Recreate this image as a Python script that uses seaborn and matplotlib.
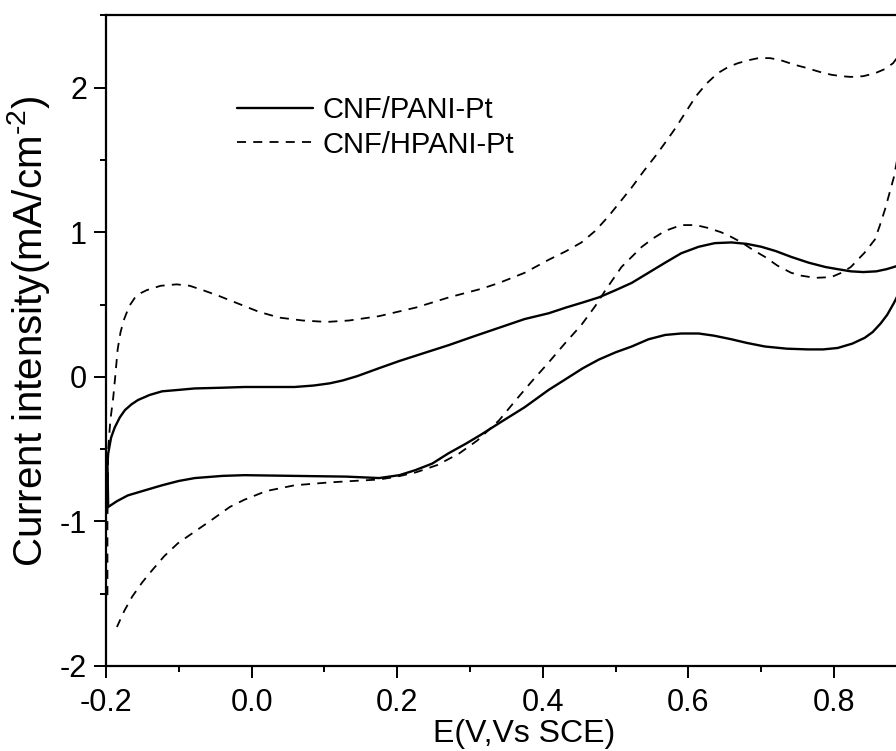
import matplotlib
matplotlib.use('Agg')
import matplotlib.pyplot as plt
from matplotlib.ticker import MultipleLocator, FormatStrFormatter
import seaborn as sns
import pandas as pd

# CNF/PANI-Pt, one cycle: forward scan then back
pani_e = [-0.198, -0.197, -0.193, -0.188, -0.181, -0.174, -0.165, -0.156, -0.14, -0.123,
          -0.1, -0.078, -0.04, -0.01, 0.03, 0.059, 0.085, 0.107, 0.125, 0.145,
          0.175, 0.203, 0.24, 0.271, 0.305, 0.34, 0.375, 0.408, 0.432, 0.455,
          0.477, 0.50, 0.522, 0.545, 0.568, 0.59, 0.614, 0.636, 0.659, 0.68,
          0.70, 0.72, 0.741, 0.765, 0.788, 0.805, 0.823, 0.84, 0.858, 0.872,
          0.882, 0.90,
          0.90, 0.891, 0.882, 0.873, 0.864, 0.853, 0.842, 0.825, 0.805, 0.785,
          0.764, 0.735, 0.705, 0.68, 0.659, 0.635, 0.614, 0.59, 0.568, 0.545,
          0.522, 0.50, 0.477, 0.455, 0.43, 0.408, 0.375, 0.34, 0.315, 0.295,
          0.27, 0.248, 0.225, 0.203, 0.175, 0.13, 0.059, -0.01, -0.04, -0.078,
          -0.1, -0.123, -0.15, -0.17, -0.185, -0.197, -0.198]
pani_i = [-0.60, -0.53, -0.42, -0.35, -0.28, -0.23, -0.19, -0.16, -0.125, -0.10,
          -0.09, -0.08, -0.075, -0.07, -0.07, -0.07, -0.06, -0.045, -0.025, 0.005,
          0.06, 0.11, 0.17, 0.22, 0.28, 0.34, 0.40, 0.44, 0.48, 0.515,
          0.55, 0.60, 0.65, 0.72, 0.79, 0.855, 0.90, 0.925, 0.93, 0.92,
          0.90, 0.87, 0.83, 0.79, 0.76, 0.745, 0.73, 0.725, 0.73, 0.745,
          0.76, 0.79,
          0.72, 0.60, 0.51, 0.43, 0.37, 0.31, 0.27, 0.23, 0.20, 0.19,
          0.19, 0.195, 0.21, 0.235, 0.26, 0.285, 0.30, 0.30, 0.29, 0.26,
          0.21, 0.17, 0.12, 0.06, -0.02, -0.09, -0.21, -0.32, -0.40, -0.46,
          -0.53, -0.60, -0.645, -0.68, -0.70, -0.69, -0.685, -0.68, -0.685, -0.70,
          -0.72, -0.75, -0.79, -0.82, -0.86, -0.90, -0.60]

# CNF/HPANI-Pt, one cycle
hpani_e = [-0.198, -0.198, -0.197, -0.194, -0.19, -0.187, -0.184, -0.18, -0.175, -0.168,
           -0.16, -0.152, -0.144, -0.125, -0.103, -0.085, -0.067, -0.045, -0.02, 0.01,
           0.038, 0.07, 0.103, 0.134, 0.175, 0.226, 0.271, 0.316, 0.34, 0.375,
           0.408, 0.432, 0.453, 0.472, 0.49, 0.506, 0.522, 0.538, 0.555, 0.568,
           0.582, 0.596, 0.61, 0.625, 0.64, 0.655, 0.668, 0.682, 0.696, 0.712,
           0.727, 0.745, 0.76, 0.78, 0.796, 0.81, 0.823, 0.84, 0.856, 0.87,
           0.881, 0.90,
           0.90, 0.891, 0.882, 0.876, 0.87, 0.863, 0.856, 0.842, 0.823, 0.81,
           0.796, 0.774, 0.755, 0.741, 0.722, 0.705, 0.688, 0.673, 0.658, 0.645,
           0.627, 0.61, 0.59, 0.568, 0.552, 0.536, 0.522, 0.508, 0.497, 0.486,
           0.472, 0.453, 0.43, 0.408, 0.385, 0.363, 0.34, 0.31, 0.285, 0.255,
           0.226, 0.2, 0.175, 0.14, 0.107, 0.059, 0.02, -0.01, -0.03, -0.055,
           -0.078, -0.101, -0.12, -0.137, -0.15, -0.164, -0.175, -0.185]
hpani_i = [-1.51, -1.0, -0.5, -0.3, -0.14, 0.02, 0.19, 0.31, 0.40, 0.49,
           0.55, 0.58, 0.60, 0.63, 0.64, 0.63, 0.60, 0.56, 0.51, 0.45,
           0.41, 0.39, 0.38, 0.39, 0.42, 0.48, 0.55, 0.61, 0.65, 0.72,
           0.81, 0.87, 0.93, 1.01, 1.11, 1.21, 1.31, 1.42, 1.53, 1.62,
           1.72, 1.83, 1.94, 2.03, 2.10, 2.145, 2.17, 2.19, 2.205, 2.205,
           2.19, 2.16, 2.14, 2.11, 2.09, 2.08, 2.075, 2.08, 2.10, 2.13,
           2.17, 2.30,
           1.85, 1.62, 1.38, 1.27, 1.16, 1.05, 0.95, 0.86, 0.76, 0.72,
           0.69, 0.685, 0.70, 0.72, 0.77, 0.83, 0.88, 0.93, 0.97, 1.00,
           1.03, 1.05, 1.05, 1.01, 0.96, 0.90, 0.83, 0.76, 0.68, 0.60,
           0.49, 0.36, 0.23, 0.10, -0.03, -0.16, -0.30, -0.44, -0.53, -0.61,
           -0.66, -0.69, -0.71, -0.72, -0.73, -0.75, -0.79, -0.85, -0.90, -0.99,
           -1.07, -1.15, -1.24, -1.34, -1.42, -1.52, -1.62, -1.73]

labels = ['CNF/PANI-Pt', 'CNF/HPANI-Pt']

pani = pd.DataFrame({'E': pani_e, 'I': pani_i})
hpani = pd.DataFrame({'E': hpani_e, 'I': hpani_i})

sns.set_theme(style='ticks')
plt.rcParams['font.family'] = ['Liberation Sans', 'DejaVu Sans']
plt.rcParams['mathtext.fontset'] = 'custom'
plt.rcParams['mathtext.rm'] = 'Liberation Sans'
plt.rcParams['text.color'] = 'black'
plt.rcParams['axes.labelcolor'] = 'black'
plt.rcParams['axes.unicode_minus'] = False

fig = plt.figure(figsize=(8.96, 7.51), dpi=100)
ax = fig.add_axes([0.1183, 0.1132, 0.8817, 0.8662])

sns.lineplot(data=pani, x='E', y='I', sort=False, estimator=None, color='black',
             lw=1.7, label=labels[0], ax=ax)
sns.lineplot(data=hpani, x='E', y='I', sort=False, estimator=None, color='black',
             lw=1.3, linestyle=(0, (5, 4)), label=labels[1], ax=ax)

ax.set_xlim(-0.2, 0.885)
ax.set_ylim(-2, 2.5)
ax.xaxis.set_major_locator(MultipleLocator(0.2))
ax.xaxis.set_minor_locator(MultipleLocator(0.1))
ax.xaxis.set_major_formatter(FormatStrFormatter('%.1f'))
ax.yaxis.set_major_locator(MultipleLocator(1))
ax.yaxis.set_minor_locator(MultipleLocator(0.5))

ax.tick_params(which='major', direction='out', length=8.6, width=1.4, labelsize=22,
               colors='black')
ax.tick_params(which='minor', direction='out', length=4.3, width=1.4, colors='black')
ax.tick_params(axis='x', which='major', pad=7)
ax.tick_params(axis='y', which='major', pad=5)
for side in ['left', 'bottom', 'top']:
    ax.spines[side].set_linewidth(1.6)
    ax.spines[side].set_color('black')
ax.spines['right'].set_visible(False)

ax.set_xlabel('E(V,Vs SCE)', fontsize=23)
ax.set_ylabel('Current intensity(mA/cm$^{\\text{-}2}$)', fontsize=29)
ax.xaxis.set_label_coords(0.529, -0.081)
ax.yaxis.set_label_coords(-0.068, 0.515)

ax.legend(loc='upper left', bbox_to_anchor=(0.166, 0.876), frameon=False,
          fontsize=21, handlelength=2.6, handletextpad=0.31, labelspacing=0.22,
          borderpad=0, borderaxespad=0)

fig.savefig('out.png', dpi=100)
